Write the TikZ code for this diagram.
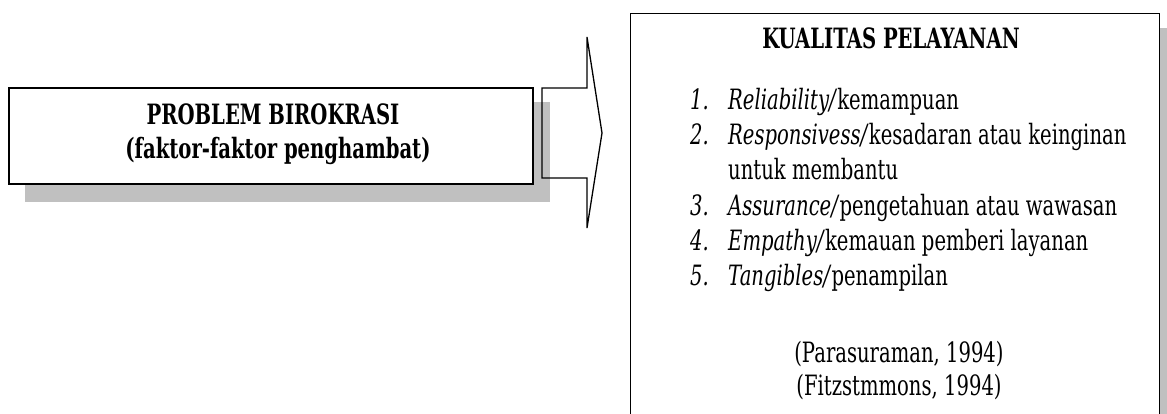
\documentclass[tikz,border=0pt]{standalone}
\usepackage{fontspec}
\setmainfont{DejaVu Serif}[FakeStretch=0.70]
\definecolor{shadowgray}{RGB}{192,192,192}
\begin{document}
\begin{tikzpicture}[x=1pt,y=-1pt,
  shadowbox/.style={fill=shadowgray,draw=none},
  frame/.style={draw=black,line width=1.3pt,fill=white},
  outline/.style={draw=black,line width=1.3pt,line join=miter},
  label/.style={inner sep=0pt,font=\fontsize{28}{32}\selectfont},
  heading/.style={label,anchor=base,font=\fontsize{28}{32}\selectfont\bfseries},
  entry/.style={label,anchor=base west},
  cite/.style={label,anchor=base}]
\useasboundingbox (0,0) rectangle (1167,414);

% left block with its offset shadow
\fill[shadowbox] (25,102) rectangle (550,202);
\node[frame,minimum width=524pt,minimum height=96pt,inner sep=0pt] (prob) at (271,136) {};
\node[heading] (probtitle) at (273,125) {PROBLEM BIROKRASI};
\node[heading] (probsub) at (278,159) {(faktor-faktor penghambat)};

% block arrow pointing to the right
\coordinate (shaftnw) at (542,88);
\coordinate (shaftsw) at (542,178);
\coordinate (tip) at (602,133);
\draw[outline] (shaftnw) -- (587,88) -- (587,37) -- (tip) -- (587,228) -- (587,178) -- (shaftsw) -- cycle;

% right block with its offset shadow (runs past the lower edge)
\fill[shadowbox] (646,28) rectangle (1180,440);
\node[frame,minimum width=529pt,minimum height=427pt,inner sep=0pt,anchor=north west] (qual) at (630,13) {};

\node[heading] (qtitle) at (891,49) {KUALITAS PELAYANAN};

\node[entry] (n1) at (690,110) {\textit{1.}};
\node[entry] (i1) at (728,110) {\textit{Reliability/}kemampuan};
\node[entry] (n2) at (690,145) {\textit{2.}};
\node[entry] (i2) at (728,145) {\textit{Responsivess/}kesadaran atau keinginan};
\node[entry] (i2b) at (728,180) {untuk membantu};
\node[entry] (n3) at (690,215) {\textit{3.}};
\node[entry] (i3) at (728,215) {\textit{Assurance/}pengetahuan atau wawasan};
\node[entry] (n4) at (690,250) {\textit{4.}};
\node[entry] (i4) at (728,250) {\textit{Empathy/}kemauan pemberi layanan};
\node[entry] (n5) at (690,285) {\textit{5.}};
\node[entry] (i5) at (728,285) {\textit{Tangibles/}penampilan};

\node[cite] (c1) at (899,362) {(Parasuraman, 1994)};
\node[cite] (c2) at (899,395) {(Fitzstmmons, 1994)};
\end{tikzpicture}
\end{document}
